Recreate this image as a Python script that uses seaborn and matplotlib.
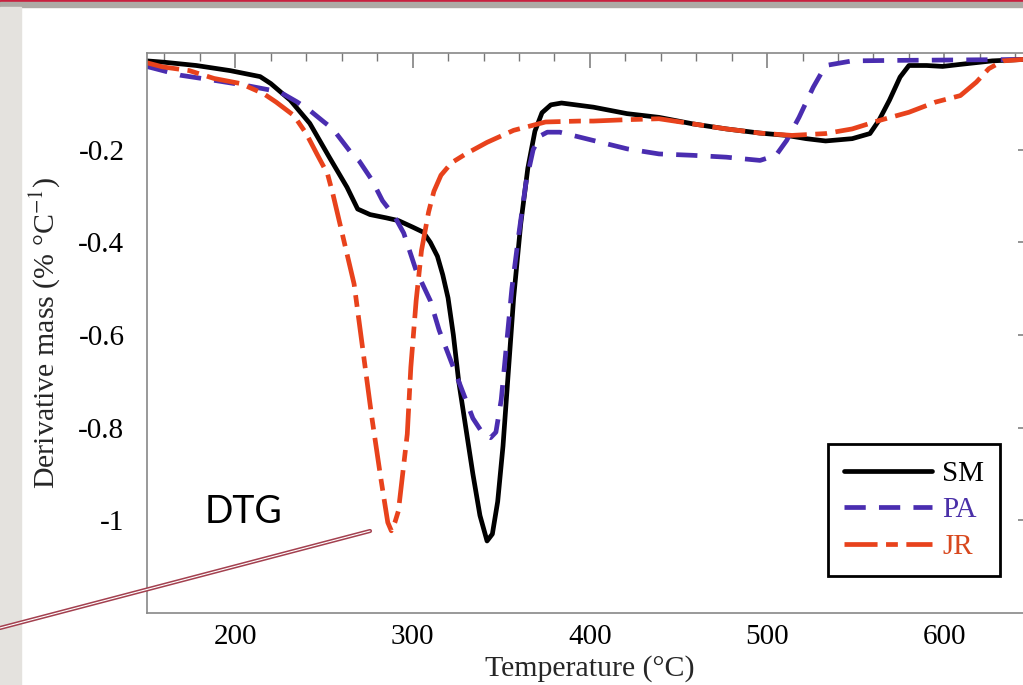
import numpy as np
import pandas as pd
import seaborn as sns
import matplotlib.pyplot as plt
from matplotlib.lines import Line2D
from matplotlib.patches import Rectangle
from matplotlib.ticker import MultipleLocator

# --- data (temperature in C, derivative mass in %/C) ---
sm_temp = [150, 160, 178, 197, 214, 220, 231, 242, 253, 263, 269, 276, 285, 292,
           300, 306, 310, 314, 317, 320, 323, 326, 330, 334, 338, 342, 345, 348,
           351, 354, 357, 361, 365, 369, 373, 378, 384, 402, 421, 439, 458, 477,
           496, 511, 522, 533, 548, 558, 563, 569, 575, 580, 590, 599, 608, 627,
           644, 650]
sm_val = [-0.008, -0.011, -0.018, -0.029, -0.042, -0.057, -0.093, -0.143, -0.216,
          -0.281, -0.328, -0.340, -0.347, -0.353, -0.367, -0.378, -0.400, -0.430,
          -0.470, -0.520, -0.600, -0.700, -0.800, -0.900, -0.990, -1.045, -1.030,
          -0.960, -0.840, -0.680, -0.520, -0.360, -0.240, -0.160, -0.120, -0.103,
          -0.099, -0.108, -0.122, -0.130, -0.144, -0.155, -0.164, -0.169, -0.176,
          -0.181, -0.176, -0.165, -0.137, -0.093, -0.043, -0.018, -0.018, -0.020,
          -0.016, -0.008, -0.005, -0.004]

pa_temp = [150, 159, 169, 188, 206, 225, 235, 242, 250, 255, 265, 270, 277, 283,
           290, 295, 302, 310, 315, 322, 328, 334, 340, 344, 347, 350, 353, 356,
           360, 364, 368, 372, 376, 383, 402, 421, 439, 458, 477, 496, 505, 511,
           518, 526, 533, 548, 571, 644, 650]
pa_val = [-0.020, -0.029, -0.039, -0.050, -0.061, -0.075, -0.097, -0.115, -0.140,
          -0.155, -0.205, -0.225, -0.265, -0.310, -0.345, -0.380, -0.461, -0.526,
          -0.590, -0.660, -0.720, -0.780, -0.815, -0.822, -0.810, -0.740, -0.620,
          -0.500, -0.380, -0.270, -0.200, -0.170, -0.162, -0.162, -0.180, -0.198,
          -0.209, -0.212, -0.216, -0.223, -0.212, -0.180, -0.130, -0.065, -0.018,
          -0.008, -0.007, -0.005, -0.004]

jr_temp = [150, 159, 174, 188, 203, 216, 223, 233, 240, 246, 252, 255, 259, 263,
           267, 272, 277, 282, 286, 288, 290, 292, 297, 299, 302, 305, 309, 312,
           316, 322, 330, 342, 357, 375, 394, 402, 421, 439, 458, 477, 496, 514,
           533, 548, 563, 580, 595, 609, 618, 625, 633, 644, 650]
jr_val = [-0.012, -0.021, -0.029, -0.046, -0.057, -0.079, -0.097, -0.126, -0.165,
          -0.209, -0.252, -0.295, -0.360, -0.425, -0.490, -0.634, -0.778, -0.908,
          -1.005, -1.023, -1.005, -0.980, -0.814, -0.670, -0.526, -0.418, -0.335,
          -0.290, -0.255, -0.228, -0.209, -0.184, -0.158, -0.140, -0.138, -0.138,
          -0.135, -0.133, -0.144, -0.155, -0.164, -0.169, -0.165, -0.155, -0.137,
          -0.119, -0.097, -0.083, -0.054, -0.025, -0.008, -0.005, -0.003]

series_names = ['SM', 'PA', 'JR']
series_colors = ['#000000', '#4a2db0', '#e8421c']
text_colors = ['#000000', '#4a30a8', '#d8481e']

# --- style ---
sns.set_style("white")
plt.rcParams['font.family'] = ['Liberation Serif', 'DejaVu Serif']
plt.rcParams['mathtext.fontset'] = 'stix'

fig = plt.figure(figsize=(10.23, 6.85), dpi=100)
fig.patch.set_facecolor('white')

# slide decoration: top bars and left strip
fig.patches.append(Rectangle((0, 1 - 2.5 / 685), 1, 2.5 / 685, transform=fig.transFigure,
                             color='#c8203f', zorder=0))
fig.patches.append(Rectangle((0, 1 - 7 / 685), 1, 4.5 / 685, transform=fig.transFigure,
                             color='#aeaaa5', zorder=0))
fig.patches.append(Rectangle((0, 0), 21 / 1023, 1 - 7 / 685, transform=fig.transFigure,
                             color='#e4e2de', zorder=0))

ax = fig.add_axes([0.1434, 0.1055, 0.8664, 0.8178])

lw = 3.4
sns.lineplot(x=sm_temp, y=sm_val, ax=ax, color=series_colors[0], linewidth=lw,
             sort=False, label='SM')
sns.lineplot(x=pa_temp, y=pa_val, ax=ax, color=series_colors[1], linewidth=lw,
             sort=False, label='PA', linestyle=(0, (4.5, 2.8)))
sns.lineplot(x=jr_temp, y=jr_val, ax=ax, color=series_colors[2], linewidth=lw,
             sort=False, label='JR', linestyle=(0, (7, 1.8, 2.5, 1.8)))

ax.set_xlim(150, 650)
ax.set_ylim(-1.2, 0.01)

ax.set_xticks([200, 300, 400, 500, 600])
ax.xaxis.set_minor_locator(MultipleLocator(20))
ax.set_yticks([-1, -0.8, -0.6, -0.4, -0.2])
ax.set_yticklabels(['-1', '-0.8', '-0.6', '-0.4', '-0.2'])
ax.yaxis.set_minor_locator(MultipleLocator(0.05))

ax.tick_params(which='both', direction='in', top=True, right=True, colors='#777777',
               labelcolor='black', labelsize=21)
ax.tick_params(which='major', length=11, width=1.1)
ax.tick_params(which='minor', length=6, width=1.0)
ax.tick_params(axis='y', pad=16)
ax.tick_params(axis='x', pad=8)
for sp in ax.spines.values():
    sp.set_color('#888888')
    sp.set_linewidth(1.2)

ax.set_xlabel('Temperature (°C)', fontsize=21.5, labelpad=4)
ax.set_ylabel('Derivative mass (% °C$^{-1}$)', fontsize=21.5, labelpad=12)

leg = ax.legend(loc='lower left', bbox_to_anchor=(0.769, 0.0655), fontsize=21,
                frameon=True, fancybox=False, framealpha=1, edgecolor='black',
                handlelength=3.0, handletextpad=0.35, labelspacing=0.35,
                borderpad=0.55, borderaxespad=0)
leg.get_frame().set_linewidth(2.0)
for txt, c in zip(leg.get_texts(), text_colors):
    txt.set_color(c)

# slide callout: "DTG" with a double connector line
x0, y0 = 0.0, 1 - 628 / 685
x1, y1 = 370 / 1023, 1 - 531 / 685
fig.lines.append(Line2D([x0, x1], [y0, y1], transform=fig.transFigure,
                        color='#a3404f', linewidth=3.0, zorder=5))
fig.lines.append(Line2D([x0, x1], [y0, y1], transform=fig.transFigure,
                        color='white', linewidth=0.8, zorder=6))
fig.text(205 / 1023, 1 - 522.7 / 685, 'DTG', fontsize=27, family=['Lato', 'DejaVu Sans'],
         va='baseline', ha='left', color='black')

fig.savefig('out.png', dpi=100)
